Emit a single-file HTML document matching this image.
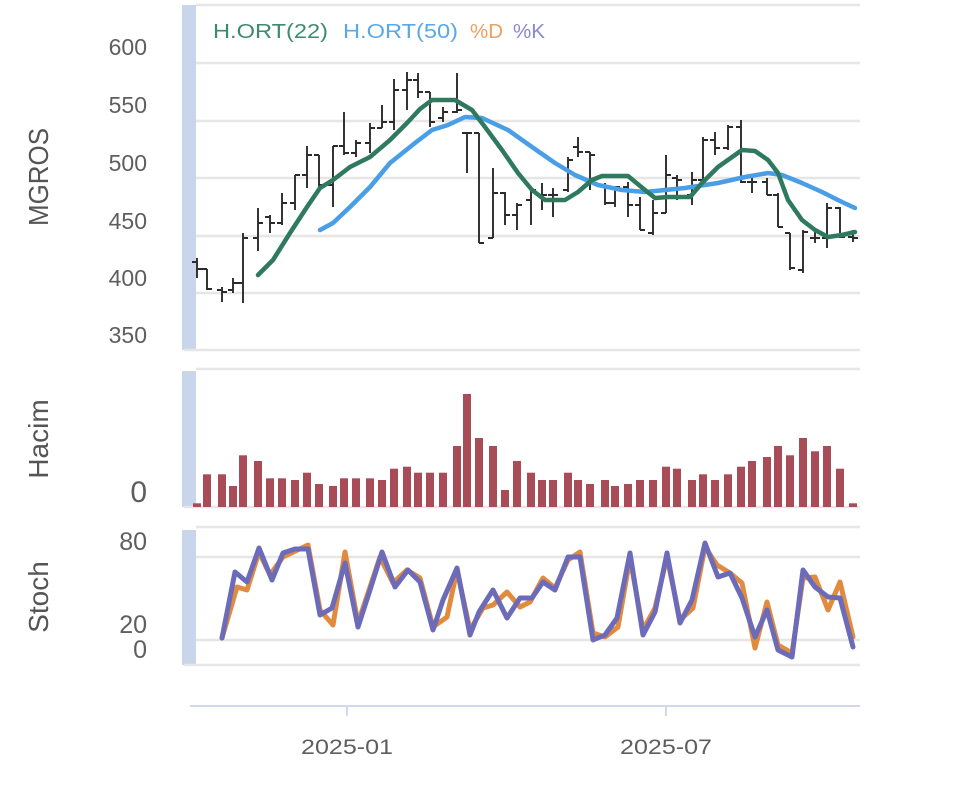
<!DOCTYPE html>
<html><head><meta charset="utf-8"><style>
html,body{margin:0;padding:0;background:#fff;}
svg{display:block;}
text{font-family:"Liberation Sans",sans-serif;}
</style></head><body>
<svg width="960" height="792" viewBox="0 0 960 792" xmlns="http://www.w3.org/2000/svg">
<rect x="182" y="5" width="14" height="345" fill="#c9d5ea"/>
<rect x="182" y="371" width="14" height="136" fill="#c9d5ea"/>
<rect x="182" y="530" width="14" height="135" fill="#c9d5ea"/>
<g stroke="#e6e6e6" stroke-width="2.5">
<line x1="196" y1="5" x2="860" y2="5"/>
<line x1="196" y1="63" x2="860" y2="63"/>
<line x1="196" y1="121" x2="860" y2="121"/>
<line x1="196" y1="178" x2="860" y2="178"/>
<line x1="196" y1="236" x2="860" y2="236"/>
<line x1="196" y1="293" x2="860" y2="293"/>
<line x1="184" y1="350" x2="860" y2="350"/>
<line x1="196" y1="369" x2="860" y2="369"/>
<line x1="184" y1="507" x2="860" y2="507"/>
<line x1="196" y1="527" x2="860" y2="527"/>
<line x1="196" y1="557" x2="860" y2="557"/>
<line x1="196" y1="640" x2="860" y2="640"/>
<line x1="184" y1="665" x2="860" y2="665"/>
</g>
<g fill="#5e5e5e" font-size="23" text-anchor="end">
<text x="147" y="55">600</text>
<text x="147" y="113">550</text>
<text x="147" y="171">500</text>
<text x="147" y="229">450</text>
<text x="147" y="286">400</text>
<text x="147" y="343">350</text>
<text x="147" y="502" font-size="30">0</text>
<text x="147" y="550" font-size="25">80</text>
<text x="147" y="633" font-size="25">20</text>
<text x="147" y="658" font-size="25">0</text>
</g>
<g fill="#555" font-size="28" text-anchor="middle">
<text transform="translate(48,177) rotate(-90)" textLength="98" lengthAdjust="spacingAndGlyphs">MGROS</text>
<text transform="translate(48,439) rotate(-90)">Hacim</text>
<text transform="translate(48,597) rotate(-90)">Stoch</text>
</g>
<g font-size="20">
<text x="213" y="38" fill="#3d8a70" textLength="115" lengthAdjust="spacingAndGlyphs">H.ORT(22)</text>
<text x="343" y="38" fill="#5aa9e6" textLength="115" lengthAdjust="spacingAndGlyphs">H.ORT(50)</text>
<text x="470" y="38" fill="#e9a060" textLength="33" lengthAdjust="spacingAndGlyphs">%D</text>
<text x="513" y="38" fill="#8a88d0" textLength="32" lengthAdjust="spacingAndGlyphs">%K</text>
</g>
<path fill="none" stroke="#2b2b2b" stroke-width="1.9" d="M197 258V278M192 262H197M197 269H202 M207 269V290M202 269H207M207 289H212 M222 287V302M217 290H222M222 292H227 M233 278V293M228 290H233M233 283H238 M243 233V303M238 283H243M243 238H248 M258 208V251M253 238H258M258 223H263 M270 215V233M265 217H270M270 223H275 M282 193V225M277 223H282M282 203H287 M295 175V210M290 203H295M295 175H300 M307 146V188M302 175H307M307 155H312 M319 155V187M314 155H319M319 185H324 M333 146V207M328 185H333M333 146H338 M344 112V155M339 146H344M344 153H349 M356 140V157M351 153H356M356 143H361 M370 123V153M365 143H370M370 128H375 M382 105V128M377 128H382M382 122H387 M394 79V130M389 122H394M394 90H399 M407 72V110M402 90H407M407 80H412 M418 73V98M413 80H418M418 92H423 M430 92V127M425 92H430M430 122H435 M443 107V122M438 118H443M443 112H448 M457 73V113M452 112H457M457 110H462 M467 133V173M462 133H467M467 133H472 M479 133V243M474 133H479M479 243H484 M493 168V238M488 238H493M493 193H498 M505 192V225M500 193H505M505 215H510 M517 203V230M512 215H517M517 205H522 M531 187V225M526 200H531M531 190H536 M542 183V210M537 195H542M542 195H547 M553 188V217M548 195H553M553 195H558 M568 157V192M563 190H568M568 160H573 M578 137V157M573 147H578M578 152H583 M590 152V190M585 152H590M590 155H595 M605 183V205M600 185H605M605 203H610 M615 187V207M610 203H615M615 187H620 M628 182V217M623 187H628M628 205H633 M640 197V230M635 205H640M640 230H645 M653 200V235M648 233H653M653 213H658 M666 155V213M661 213H666M666 175H671 M677 175V200M672 178H677M677 180H682 M692 172V205M687 195H692M692 180H697 M703 137V180M698 180H703M703 140H708 M715 132V155M710 140H715M715 148H720 M728 125V150M723 148H728M728 127H733 M741 120V183M736 127H741M741 182H746 M752 178V193M747 182H752M752 182H757 M767 178V195M762 182H767M767 195H772 M778 193V227M773 195H778M778 227H783 M790 233V270M785 233H790M790 268H795 M803 230V273M798 270H803M803 232H808 M815 228V243M810 238H815M815 238H820 M827 203V248M822 238H827M827 208H832 M840 207V238M835 208H840M840 237H845 M853 230V242M848 237H853M853 238H858"/>
<polyline fill="none" stroke="#4a9ee6" stroke-width="4.5" stroke-linejoin="round" stroke-linecap="round" points="320,230 333,223 350,207 370,187 390,163 415,143 432,130 448,125 465,117 482,118 508,130 532,147 555,163 575,175 598,185 622,190 645,192 685,188 718,183 745,177 768,173 782,175 802,183 822,192 842,202 855,208"/>
<polyline fill="none" stroke="#2f7a5f" stroke-width="4.5" stroke-linejoin="round" stroke-linecap="round" points="258,275 265,268 273,260 290,233 307,207 320,188 333,180 350,167 370,157 390,140 407,123 420,109 432,100 455,100 472,110 485,127 502,150 518,173 532,190 545,200 565,200 578,192 592,180 602,176 628,176 645,190 655,198 668,197 690,197 702,183 718,167 735,155 742,150 755,151 768,160 778,173 788,200 802,220 815,230 828,237 842,235 855,232"/>
<g fill="#a84c57">
<rect x="193" y="503.3" width="8" height="3.7"/>
<rect x="203" y="474.3" width="8" height="32.7"/>
<rect x="218" y="474.3" width="8" height="32.7"/>
<rect x="229" y="486" width="8" height="21"/>
<rect x="239" y="455.3" width="8" height="51.7"/>
<rect x="254" y="461" width="8" height="46"/>
<rect x="266" y="478.3" width="8" height="28.7"/>
<rect x="278" y="478.3" width="8" height="28.7"/>
<rect x="291" y="480" width="8" height="27"/>
<rect x="303" y="472.7" width="8" height="34.3"/>
<rect x="315" y="484" width="8" height="23"/>
<rect x="329" y="486" width="8" height="21"/>
<rect x="340" y="478.3" width="8" height="28.7"/>
<rect x="352" y="478.3" width="8" height="28.7"/>
<rect x="366" y="478.3" width="8" height="28.7"/>
<rect x="378" y="480" width="8" height="27"/>
<rect x="390" y="468.7" width="8" height="38.3"/>
<rect x="403" y="466.7" width="8" height="40.3"/>
<rect x="414" y="472.7" width="8" height="34.3"/>
<rect x="426" y="472.7" width="8" height="34.3"/>
<rect x="439" y="472.7" width="8" height="34.3"/>
<rect x="453" y="446" width="8" height="61"/>
<rect x="463" y="394" width="8" height="113"/>
<rect x="475" y="438" width="8" height="69"/>
<rect x="489" y="446" width="8" height="61"/>
<rect x="501" y="490" width="8" height="17"/>
<rect x="513" y="461" width="8" height="46"/>
<rect x="527" y="472.7" width="8" height="34.3"/>
<rect x="538" y="480" width="8" height="27"/>
<rect x="549" y="480" width="8" height="27"/>
<rect x="564" y="472.7" width="8" height="34.3"/>
<rect x="574" y="480" width="8" height="27"/>
<rect x="586" y="484" width="8" height="23"/>
<rect x="601" y="480" width="8" height="27"/>
<rect x="611" y="486" width="8" height="21"/>
<rect x="624" y="484" width="8" height="23"/>
<rect x="636" y="480" width="8" height="27"/>
<rect x="649" y="480" width="8" height="27"/>
<rect x="662" y="466.7" width="8" height="40.3"/>
<rect x="673" y="468.7" width="8" height="38.3"/>
<rect x="688" y="480" width="8" height="27"/>
<rect x="699" y="474.3" width="8" height="32.7"/>
<rect x="711" y="480" width="8" height="27"/>
<rect x="724" y="474.3" width="8" height="32.7"/>
<rect x="737" y="466.7" width="8" height="40.3"/>
<rect x="748" y="461" width="8" height="46"/>
<rect x="763" y="457" width="8" height="50"/>
<rect x="774" y="446" width="8" height="61"/>
<rect x="786" y="455.3" width="8" height="51.7"/>
<rect x="799" y="438" width="8" height="69"/>
<rect x="811" y="451.3" width="8" height="55.7"/>
<rect x="823" y="446" width="8" height="61"/>
<rect x="836" y="468.7" width="8" height="38.3"/>
<rect x="849" y="503.3" width="8" height="3.7"/>
</g>
<polyline fill="none" stroke="#e08b3e" stroke-width="5" stroke-linejoin="round" stroke-linecap="round" points="222,638 237,587 247,590 259,552 270,575 283,557 308,545 320,610 333,625 345,552 358,623 380,557 393,583 407,570 420,578 433,627 447,617 457,570 470,630 483,608 493,605 507,592 520,607 530,602 543,578 555,588 568,560 580,552 593,633 605,637 618,627 630,558 643,630 655,608 667,557 680,620 693,608 705,547 717,565 730,573 742,583 755,648 767,602 778,645 792,653 803,578 815,577 828,610 840,582 853,637"/>
<polyline fill="none" stroke="#6c6bb9" stroke-width="5" stroke-linejoin="round" stroke-linecap="round" points="222,638 235,572 247,582 259,548 272,580 283,553 295,549 308,549 320,615 332,608 345,563 358,627 370,590 382,552 395,587 408,570 420,582 433,630 443,600 457,568 470,635 479,612 493,590 507,618 520,598 532,598 543,582 555,590 568,557 580,557 593,640 605,635 617,618 630,553 643,635 655,612 667,553 680,623 692,600 705,543 718,577 730,573 742,598 755,637 767,610 778,650 792,657 803,570 815,587 828,597 840,598 853,647"/>
<line x1="190" y1="706" x2="860" y2="706" stroke="#d0d8ea" stroke-width="2"/>
<line x1="347" y1="706" x2="347" y2="716" stroke="#d0d8ea" stroke-width="2"/>
<line x1="666" y1="706" x2="666" y2="716" stroke="#d0d8ea" stroke-width="2"/>
<g fill="#5e5e5e" font-size="21" text-anchor="middle">
<text x="347" y="754" textLength="92" lengthAdjust="spacingAndGlyphs">2025-01</text>
<text x="666" y="754" textLength="92" lengthAdjust="spacingAndGlyphs">2025-07</text>
</g>
</svg>
</body></html>
